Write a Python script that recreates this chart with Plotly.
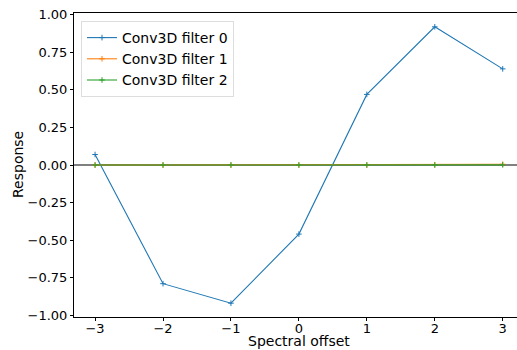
import plotly.graph_objects as go

offsets = [-3, -2, -1, 0, 1, 2, 3]
filter0 = [0.07, -0.79, -0.92, -0.46, 0.47, 0.92, 0.64]
filter1 = [0.0, 0.0, 0.0, 0.0, 0.0, 0.002, 0.005]
filter2 = [0.0, 0.0, 0.0, 0.0, 0.0, 0.0, 0.001]
names = ["Conv3D filter 0", "Conv3D filter 1", "Conv3D filter 2"]
colors = ["#1f77b4", "#ff7f0e", "#2ca02c"]

fig = go.Figure()
for ys, nm, c in zip([filter0, filter1, filter2], names, colors):
    fig.add_trace(go.Scatter(
        x=offsets, y=ys, name=nm, mode="lines+markers",
        line=dict(color=c, width=1.1),
        marker=dict(symbol="cross-thin", size=4, line=dict(color=c, width=1)),
    ))

fig.add_hline(y=0, line=dict(color="black", width=1), layer="below")

font = "DejaVu Sans, sans-serif"
L, T, R, B = 74, 13, 0, 33
W, H = 517 - L - R, 350 - T - B
fig.update_layout(
    width=517, height=350,
    margin=dict(l=L, r=R, t=T, b=B, autoexpand=False),
    plot_bgcolor="white", paper_bgcolor="white",
    font=dict(family=font, size=13, color="black"),
    showlegend=True,
    legend=dict(x=(81 - L) / W, y=(H + T - 21) / H, xanchor="left", yanchor="top",
                bgcolor="rgba(255,255,255,0.8)", bordercolor="#dddddd", borderwidth=1,
                font=dict(size=14), tracegroupgap=0, itemwidth=30),
    xaxis=dict(range=[-3.31, 3.21], tickvals=offsets, ticktext=["−3", "−2", "−1", "0", "1", "2", "3"],
               showgrid=False, zeroline=False, showline=True, linecolor="black", linewidth=1,
               mirror=True, ticks="outside", ticklen=3, tickcolor="black", automargin=False,
               ticklabelstandoff=-4),
    yaxis=dict(range=[-1.012, 1.012], tickvals=[-1, -0.75, -0.5, -0.25, 0, 0.25, 0.5, 0.75, 1],
               ticktext=["−1.00", "−0.75", "−0.50", "−0.25", "0.00", "0.25", "0.50", "0.75", "1.00"],
               showgrid=False, zeroline=False, showline=True, linecolor="black", linewidth=1,
               ticks="outside", ticklen=3, tickcolor="black", automargin=False),
    annotations=[
        dict(text="Spectral offset", x=(299 - L) / W, y=(H + T - 350) / H, xref="paper", yref="paper",
             showarrow=False, xanchor="center", yanchor="bottom", borderpad=0, font=dict(size=14)),
        dict(text="Response", x=(18 - L) / W, y=(H + T - 165) / H, xref="paper", yref="paper",
             textangle=-90, showarrow=False, xanchor="center", yanchor="middle", font=dict(size=14)),
    ],
)

fig.write_html("out.html", config={"displayModeBar": False},
               post_script="document.body.style.margin='0';document.body.style.overflow='hidden';")
